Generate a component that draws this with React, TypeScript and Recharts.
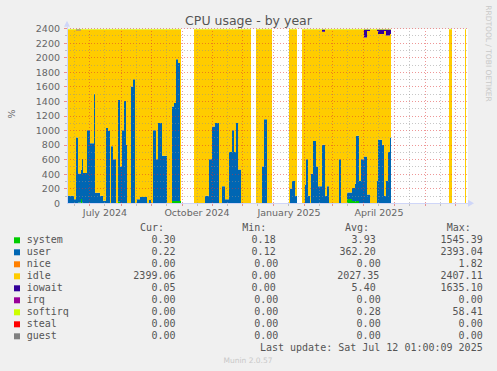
import React from 'react';
import { AreaChart, Area, XAxis, YAxis, CartesianGrid, ReferenceLine, ReferenceDot } from 'recharts';

// day offset from 2024-06-08 (≈1 px per day on the reference)
const days = [
  0, 7, 9, 11, 14, 15, 16, 20, 23, 27,
  28, 33, 36, 39, 41, 43, 44, 46, 49, 51,
  53, 55, 57, 59, 60, 64, 66, 68, 70, 73,
  80, 82, 84, 86, 89, 91, 95, 100, 105, 107,
  109, 111, 113, 114, 114.01, 127, 138, 142, 145, 148,
  152, 155, 158, 162, 165, 167, 169, 171, 174, 184,
  184.01, 189, 195, 197, 200, 205, 205.01, 222, 223, 225,
  228, 230, 230.01, 235, 238, 239, 241, 243, 244, 246,
  249, 251, 255, 258, 260, 262, 272, 274, 280, 285,
  288, 289, 292, 294, 297, 300, 303, 310, 311, 315,
  317, 319, 321, 323, 324, 324.01, 382, 385, 385.01, 398,
  399,
];

const user = [
  100, 50, 900, 400, 400, 600, 410, 1000, 820, 1500,
  140, 100, 30, 1030, 990, 0, 780, 600, 0, 1400,
  500, 1000, 1400, 800, 0, 1600, 1700, 0, 50, 80,
  0, 40, 0, 1000, 600, 1100, 650, 0, 1300, 1350,
  1950, 1900, 0, 0, null, 0, 100, 600, 1050, 1100,
  0, 230, 50, 700, 1000, 700, 1100, 460, 0, 0,
  null, 0, 500, 1150, 0, 0, null, 0, 200, 300,
  100, 100, null, 0, 250, 600, 100, 0, 400, 850,
  500, 230, 800, 100, 230, 0, 600, 0, 90, 180,
  250, 900, 300, 600, 640, 115, 0, 300, 870, 800,
  100, 300, 700, 900, 900, null, 0, 0, null, 0,
  0,
];

const system = [
  5, 5, 5, 10, 60, 10, 5, 5, 5, 5,
  5, 5, 5, 5, 5, 5, 5, 5, 5, 20,
  5, 5, 5, 5, 5, 5, 5, 5, 5, 5,
  5, 5, 5, 5, 5, 5, 5, 5, 30, 30,
  30, 30, 30, 30, null, 5, 5, 5, 5, 5,
  5, 5, 5, 5, 5, 5, 5, 5, 5, 5,
  null, 5, 5, 5, 5, 5, null, 5, 5, 5,
  5, 5, null, 5, 5, 5, 5, 5, 5, 5,
  5, 5, 5, 5, 5, 5, 5, 5, 60, 30,
  20, 30, 5, 5, 5, 5, 5, 5, 5, 5,
  5, 5, 5, 5, 5, null, 5, 5, null, 5,
  5,
];

const idle = [
  2283, 2333, 1475, 1970, 1928, 1778, 1973, 1383, 1563, 883,
  2243, 2283, 2353, 1353, 1393, 2383, 1603, 1783, 2383, 968,
  1883, 1383, 983, 1583, 2383, 783, 683, 2383, 2333, 2303,
  2383, 2343, 2383, 1383, 1783, 1283, 1733, 2383, 1058, 1008,
  408, 458, 2358, 2358, null, 2383, 2283, 1783, 1333, 1283,
  2383, 2153, 2333, 1683, 1383, 1683, 1283, 1923, 2383, 2383,
  null, 2383, 1883, 1233, 2383, 2383, null, 2383, 2183, 2083,
  2283, 2283, null, 2383, 2133, 1783, 2283, 2383, 1983, 1533,
  1883, 2153, 1553, 2283, 2153, 2383, 1783, 2383, 2238, 2178,
  2118, 1458, 2083, 1783, 1633, 2248, 2383, 2063, 1453, 1523,
  2263, 2003, 1603, 1423, 1423, null, 2383, 2383, null, 2383,
  2383,
];

const iowait = [
  0, 0, 8, 8, 0, 0, 0, 0, 0, 0,
  0, 0, 0, 0, 0, 0, 0, 0, 0, 0,
  0, 0, 0, 0, 0, 0, 0, 0, 0, 0,
  0, 0, 0, 0, 0, 0, 0, 0, 0, 0,
  0, 0, 0, 0, null, 0, 0, 0, 0, 0,
  0, 0, 0, 0, 0, 0, 0, 0, 0, 0,
  null, 0, 0, 0, 0, 0, null, 0, 0, 0,
  0, 0, null, 0, 0, 0, 0, 0, 0, 0,
  0, 0, 30, 0, 0, 0, 0, 0, 0, 0,
  0, 0, 0, 0, 110, 20, 0, 20, 60, 60,
  20, 80, 80, 60, 60, null, 0, 0, null, 0,
  0,
];

const softirq = [
  12, 12, 12, 12, 12, 12, 12, 12, 12, 12,
  12, 12, 12, 12, 12, 12, 12, 12, 12, 12,
  12, 12, 12, 12, 12, 12, 12, 12, 12, 12,
  12, 12, 12, 12, 12, 12, 12, 12, 12, 12,
  12, 12, 12, 12, null, 12, 12, 12, 12, 12,
  12, 12, 12, 12, 12, 12, 12, 12, 12, 12,
  null, 12, 12, 12, 12, 12, null, 12, 12, 12,
  12, 12, null, 12, 12, 12, 12, 12, 12, 12,
  12, 12, 12, 12, 12, 12, 12, 12, 12, 12,
  12, 12, 12, 12, 12, 12, 12, 12, 12, 12,
  12, 12, 12, 12, 12, null, 12, 12, null, 12,
  12,
];

const xTickDays = [38, 130, 222, 312];
const xTickLabels = ['July 2024', 'October 2024', 'January 2025', 'April 2025'];
const yTicks = [0, 200, 400, 600, 800, 1000, 1200, 1400, 1600, 1800, 2000, 2200, 2400];
const minorY = [100, 300, 500, 700, 900, 1100, 1300, 1500, 1700, 1900, 2100, 2300];
const majorY = [200, 400, 600, 800, 1000, 1200, 1400, 1600, 1800, 2000, 2200, 2400];
const monthStartDays = [22, 54, 84, 115, 145, 175, 206, 237, 265, 296, 327, 358, 388];
const midMonthDays = [7, 37, 69, 99, 130, 160, 190, 221, 252, 280, 311, 342, 373];

const legendNames = ['system', 'user', 'nice', 'idle', 'iowait', 'irq', 'softirq', 'steal', 'guest'];
const legendColors = ['#00CC00', '#0066B3', '#FF8000', '#FFCC00', '#330099', '#990099', '#CCFF00', '#FF0000', '#808080'];
const curVals = ['0.30', '0.22', '0.00', '2399.06', '0.05', '0.00', '0.00', '0.00', '0.00'];
const minVals = ['0.18', '0.12', '0.00', '0.00', '0.00', '0.00', '0.00', '0.00', '0.00'];
const avgVals = ['3.93', '362.20', '0.00', '2027.35', '5.40', '0.00', '0.28', '0.00', '0.00'];
const maxVals = ['1545.39', '2393.04', '1.82', '2407.11', '1635.10', '0.00', '58.41', '0.00', '0.00'];

const stackSeries = [
  { key: 'system', color: '#00CC00' },
  { key: 'user', color: '#0066B3' },
  { key: 'idle', color: '#FFCC00' },
  { key: 'iowait', color: '#330099' },
  { key: 'softirq', color: '#CCFF00' },
];

const data = days.map((day, i) => ({
  day,
  system: system[i],
  user: user[i],
  idle: idle[i],
  iowait: iowait[i],
  softirq: softirq[i],
}));

const W = 497;
const H = 371;
const PLOT_TOP = 28.7;
const PLOT_LEFT = 67;
const PLOT_RIGHT = 29;
const PLOT_BOTTOM = 167.7;
const X_AXIS_H = 20;
const Y_AXIS_W = 60;

const FONT = '#666666';
const AXIS = '#CFD6F8';
const MAJOR = 'rgba(222,48,48,0.5)';
const MINOR = 'rgba(143,143,143,0.5)';

const tickStyle = { fontFamily: 'DejaVu Sans', fontSize: 9.5, fill: FONT };

const minRight = [275.7, 275.7, 278.3, 275.7, 275.7, 278.3, 278.3, 278.3, 278.3];
const avgRight = [375.7, 375.7, 380.7, 379.3, 375.7, 380.7, 380.7, 380.7, 380.7];

export default function App() {
  const mono = { fontFamily: 'DejaVu Sans Mono', fontSize: 10, fill: '#555555' };
  return (
    <div style={{ position: 'absolute', left: 0, top: 0, width: W, height: H, background: '#F0F0F0', overflow: 'hidden' }}>
      <svg width={W} height={H} style={{ position: 'absolute', left: 0, top: 0 }}>
        <text x={248.5} y={24.5} textAnchor="middle" style={{ fontFamily: 'DejaVu Sans', fontSize: 12.5, fill: '#555555' }}>
          CPU usage - by year
        </text>
        <text x={11} y={114} textAnchor="middle" dominantBaseline="central" transform="rotate(-90, 11, 114)" style={{ fontFamily: 'DejaVu Sans', fontSize: 9.5, fill: FONT }}>
          %
        </text>
        <text x={488} y={53.5} textAnchor="middle" dominantBaseline="central" transform="rotate(90, 488, 53.5)" style={{ fontFamily: 'DejaVu Sans', fontSize: 7.5, fill: '#C8C8C8' }}>
          RRDTOOL / TOBI OETIKER
        </text>
        <text x={140} y={231.3} style={mono}>Cur:</text>
        <text x={242.3} y={231.3} style={mono}>Min:</text>
        <text x={345} y={231.3} style={mono}>Avg:</text>
        <text x={446.7} y={231.3} style={mono}>Max:</text>
        {legendNames.map((name, i) => {
          const base = 243.3 + i * 12;
          return (
            <g key={name}>
              <rect x={14} y={base - 6} width={6} height={6} fill={legendColors[i]} />
              <text x={26.7} y={base} style={mono}>{name}</text>
              <text x={175.5} y={base} textAnchor="end" style={mono}>{curVals[i]}</text>
              <text x={minRight[i]} y={base} textAnchor="end" style={mono}>{minVals[i]}</text>
              <text x={avgRight[i]} y={base} textAnchor="end" style={mono}>{avgVals[i]}</text>
              <text x={482.7} y={base} textAnchor="end" style={mono}>{maxVals[i]}</text>
            </g>
          );
        })}
        <text x={482.7} y={351.3} textAnchor="end" style={mono}>Last update: Sat Jul 12 01:00:09 2025</text>
        <text x={248} y={363} textAnchor="middle" style={{ fontFamily: 'DejaVu Sans', fontSize: 7.5, fill: '#C8C8C8' }}>
          Munin 2.0.57
        </text>
      </svg>

      <div style={{ position: 'absolute', left: 0, top: 0 }}>
        <AreaChart
          width={W}
          height={H}
          data={data}
          margin={{ top: PLOT_TOP, right: PLOT_RIGHT, bottom: PLOT_BOTTOM - X_AXIS_H, left: PLOT_LEFT - Y_AXIS_W }}
        >
          <CartesianGrid horizontal={false} vertical={false} fill="#FFFFFF" />
          <XAxis
            type="number"
            dataKey="day"
            domain={[0, 401]}
            ticks={xTickDays}
            interval={0}
            tickFormatter={(v: number) => xTickLabels[xTickDays.indexOf(v)]}
            axisLine={false}
            tickLine={false}
            tickSize={3}
            tickMargin={3}
            height={X_AXIS_H}
            tick={tickStyle}
            allowDataOverflow
          />
          <YAxis
            type="number"
            domain={[0, 2400]}
            ticks={yTicks}
            interval={0}
            axisLine={false}
            tickLine={false}
            tickSize={4}
            tickMargin={3}
            width={Y_AXIS_W}
            tick={tickStyle}
            allowDataOverflow
          />
          {stackSeries.map((s) => (
            <Area
              key={s.key}
              dataKey={s.key}
              type="stepAfter"
              stackId="cpu"
              stroke="none"
              fill={s.color}
              fillOpacity={1}
              isAnimationActive={false}
              dot={false}
              activeDot={false}
            />
          ))}
        </AreaChart>
      </div>

      <div style={{ position: 'absolute', left: 0, top: 0, pointerEvents: 'none' }}>
        <AreaChart
          width={W}
          height={H}
          data={data}
          margin={{ top: PLOT_TOP, right: PLOT_RIGHT, bottom: PLOT_BOTTOM, left: PLOT_LEFT }}
        >
          <XAxis type="number" dataKey="day" domain={[0, 401]} hide allowDataOverflow />
          <YAxis type="number" domain={[0, 2400]} hide allowDataOverflow />
          <Area dataKey="softirq" stroke="none" fill="none" fillOpacity={0} isAnimationActive={false} dot={false} activeDot={false} />
          {minorY.map((v) => (
            <ReferenceLine key={'hy' + v} y={v} stroke={MINOR} strokeDasharray="1 2" shapeRendering="crispEdges" />
          ))}
          {majorY.map((v) => (
            <ReferenceLine key={'my' + v} y={v} stroke={MAJOR} strokeDasharray="1 2" shapeRendering="crispEdges" />
          ))}
          {midMonthDays.map((d) => (
            <ReferenceLine key={'hx' + d} x={d} stroke={MINOR} strokeDasharray="1 2" shapeRendering="crispEdges" />
          ))}
          {monthStartDays.map((d) => (
            <ReferenceLine key={'mx' + d} x={d} stroke={MAJOR} strokeDasharray="1 2" shapeRendering="crispEdges" />
          ))}
          {minorY.map((v) => (
            <ReferenceLine key={'ty' + v} segment={[{ x: -2.5, y: v }, { x: 0, y: v }]} stroke={MINOR} ifOverflow="visible" shapeRendering="crispEdges" />
          ))}
          {majorY.map((v) => (
            <ReferenceLine key={'tmy' + v} segment={[{ x: -3, y: v }, { x: 0, y: v }]} stroke={MAJOR} ifOverflow="visible" shapeRendering="crispEdges" />
          ))}
          {midMonthDays.map((d) => (
            <ReferenceLine key={'tx' + d} segment={[{ x: d, y: 0 }, { x: d, y: -35 }]} stroke={MINOR} ifOverflow="visible" shapeRendering="crispEdges" />
          ))}
          {monthStartDays.map((d) => (
            <ReferenceLine key={'tmx' + d} segment={[{ x: d, y: 0 }, { x: d, y: -42 }]} stroke={MAJOR} ifOverflow="visible" shapeRendering="crispEdges" />
          ))}
          <ReferenceLine segment={[{ x: 0, y: 0 }, { x: 401, y: 0 }]} stroke={AXIS} ifOverflow="visible" shapeRendering="crispEdges" />
          <ReferenceLine segment={[{ x: 0, y: 0 }, { x: 0, y: 2425 }]} stroke={AXIS} ifOverflow="visible" shapeRendering="crispEdges" />
          <ReferenceDot
            x={0}
            y={2400}
            ifOverflow="visible"
            shape={(p: any) => (
              <path d={`M${p.cx - 3},${p.cy - 2} L${p.cx + 3},${p.cy - 2} L${p.cx},${p.cy - 8} Z`} fill={AXIS} />
            )}
          />
          <ReferenceDot
            x={401}
            y={0}
            ifOverflow="visible"
            shape={(p: any) => (
              <path d={`M${p.cx},${p.cy - 3.5} L${p.cx},${p.cy + 3.5} L${p.cx + 6},${p.cy} Z`} fill={AXIS} />
            )}
          />
        </AreaChart>
      </div>
    </div>
  );
}
